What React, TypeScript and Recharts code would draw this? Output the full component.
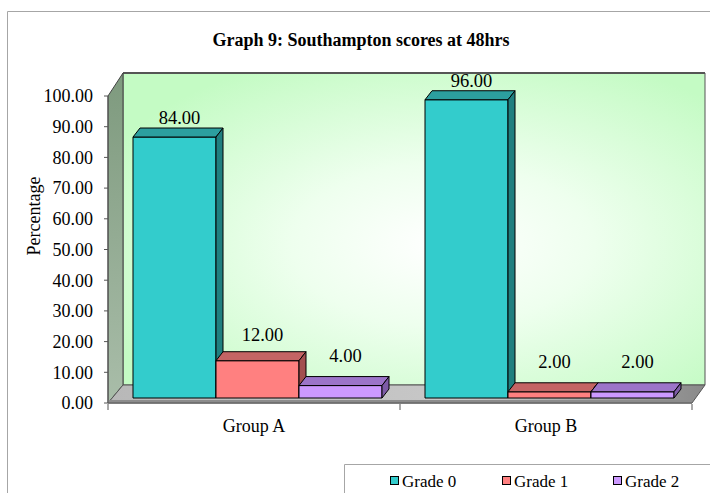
import React from 'react';
import { BarChart, Bar, XAxis, YAxis, LabelList } from 'recharts';

const categories = ['Group A', 'Group B'];
const grade0 = [84, 96];
const grade1 = [12, 2];
const grade2 = [4, 2];
const seriesNames = ['Grade 0', 'Grade 1', 'Grade 2'];
const seriesKeys = ['g0', 'g1', 'g2'];
const yTicks = [0, 10, 20, 30, 40, 50, 60, 70, 80, 90, 100];
const chartTitle = 'Graph 9: Southampton scores at 48hrs';
const yTitle = 'Percentage';

const data = categories.map((c, i) => ({ group: c, g0: grade0[i], g1: grade1[i], g2: grade2[i] }));

const W = 710;
const H = 493;
const PL = 108;
const PR = 692;
const PT = 96;
const PB = 403;
const DX = 15; // wall depth
const DY = 18;
const BAND = (PR - PL) / categories.length;
const FONT = '"Liberation Serif", "Times New Roman", Times, serif';

const COLORS = [
  { front: '#33CCCC', top: '#2C9F9F', side: '#207F7F' },
  { front: '#FF8080', top: '#C46464', side: '#A34F4F' },
  { front: '#CC99FF', top: '#9C74C9', side: '#7D5BA6' },
];

const BD = 7; // bar depth x
const BDY = 9; // bar depth y

const make3D = (c: { front: string; top: string; side: string }) => (props: any) => {
  const { x, y, width, height } = props;
  if (x == null || width == null) return null;
  const x0 = x + 4;
  const bottom = y + height - 5;
  const t = bottom - height * 1.012;
  const x1 = x0 + width;
  return (
    <g stroke="#000" strokeWidth={1} strokeLinejoin="round">
      <rect x={x0} y={t} width={width} height={bottom - t} fill={c.front} />
      <polygon points={`${x0},${t} ${x1},${t} ${x1 + BD},${t - BDY} ${x0 + BD},${t - BDY}`} fill={c.top} />
      <polygon points={`${x1},${t} ${x1 + BD},${t - BDY} ${x1 + BD},${bottom - BDY} ${x1},${bottom}`} fill={c.side} />
    </g>
  );
};

const renderLabel = (props: any) => {
  const { x, y, width, height, value } = props;
  if (x == null) return null;
  const bottom = y + height - 5;
  const t = bottom - height * 1.012;
  const base = t - 13 - Math.max(0, (30 - value) * 0.4);
  return (
    <text x={x + 4 + width / 2 + 5} y={base} textAnchor="middle" fontFamily={FONT} fontSize={18.5} fill="#000">
      {Number(value).toFixed(2)}
    </text>
  );
};

const XTick = (props: any) => {
  const { x, payload, index } = props;
  return (
    <g>
      <text x={x} y={432} textAnchor="middle" fontFamily={FONT} fontSize={18} fill="#000">
        {payload.value}
      </text>
      <line x1={x - BAND / 2} y1={PB + 1} x2={x - BAND / 2} y2={PB + 7} stroke="#555" />
      {index === categories.length - 1 ? (
        <line x1={x + BAND / 2} y1={PB + 1} x2={x + BAND / 2} y2={PB + 7} stroke="#555" />
      ) : null}
    </g>
  );
};

function Background() {
  return (
    <svg width={W} height={H} style={{ position: 'absolute', left: 0, top: 0 }}>
      <defs>
        <radialGradient id="wallGrad" cx="55%" cy="55%" r="65%">
          <stop offset="0%" stopColor="#FFFFFF" />
          <stop offset="40%" stopColor="#EEFFEE" />
          <stop offset="100%" stopColor="#C4FBC4" />
        </radialGradient>
        <linearGradient id="leftGrad" x1="0" y1="0" x2="0" y2="1">
          <stop offset="0%" stopColor="#7E9A7E" />
          <stop offset="100%" stopColor="#A9BDA9" />
        </linearGradient>
        <linearGradient id="floorGrad" x1="0" y1="0" x2="1" y2="0">
          <stop offset="0%" stopColor="#B8B8B8" />
          <stop offset="60%" stopColor="#C8C8C8" />
          <stop offset="100%" stopColor="#8A8A8A" />
        </linearGradient>
      </defs>
      <line x1={7.5} y1={11.5} x2={W} y2={11.5} stroke="#A6A6A6" />
      <line x1={7.5} y1={11.5} x2={7.5} y2={H} stroke="#A6A6A6" />
      <text x={361} y={46} textAnchor="middle" fontFamily={FONT} fontSize={18} fontWeight="bold" fill="#000">
        {chartTitle}
      </text>
      <polygon
        points={`${PL + DX},${PT - DY - 5} ${705},${PT - DY - 5} ${705},${PB - DY} ${PL + DX},${PB - DY}`}
        fill="url(#wallGrad)"
        stroke="#555"
        strokeWidth={1}
      />
      <line x1={PL + DX} y1={PT - DY - 5} x2={705} y2={PT - DY - 5} stroke="#555" strokeWidth={2} />
      <polygon
        points={`${PL},${PT} ${PL + DX},${PT - DY - 5} ${PL + DX},${PB - DY} ${PL},${PB}`}
        fill="url(#leftGrad)"
        stroke="#444"
        strokeWidth={1}
      />
      <polygon
        points={`${PL},${PB} ${PL + DX},${PB - DY} ${705},${PB - DY} ${PR},${PB}`}
        fill="url(#floorGrad)"
        stroke="#555"
        strokeWidth={1}
      />
      <rect x={PL} y={PB - 3} width={PR - PL} height={3} fill="#8C8C8C" />
      <text
        x={40}
        y={216}
        transform="rotate(-90 40 216)"
        textAnchor="middle"
        fontFamily={FONT}
        fontSize={18}
        fill="#000"
      >
        {yTitle}
      </text>
    </svg>
  );
}

function Legend() {
  const xs = [390, 502, 613];
  return (
    <svg width={W} height={H} style={{ position: 'absolute', left: 0, top: 0, pointerEvents: 'none' }}>
      <line x1={344.5} y1={464.5} x2={W} y2={464.5} stroke="#A6A6A6" />
      <line x1={344.5} y1={464.5} x2={344.5} y2={H} stroke="#A6A6A6" />
      {seriesNames.map((n, i) => (
        <g key={n}>
          <rect x={xs[i] + 0.5} y={476.5} width={8} height={8} fill={COLORS[i].front} stroke="#000" strokeWidth={1} />
          <text x={xs[i] + 12} y={487} fontFamily={FONT} fontSize={17} fill="#000">
            {n}
          </text>
        </g>
      ))}
    </svg>
  );
}

export default function App() {
  return (
    <div style={{ position: 'absolute', left: 0, top: 0, width: W, height: H, background: '#fff', overflow: 'hidden' }}>
      <Background />
      <div style={{ position: 'absolute', left: 0, top: 0 }}>
        <BarChart
          width={W}
          height={H}
          data={data}
          margin={{ top: PT, right: W - PR, bottom: H - PB - 30, left: 0 }}
          barCategoryGap={21}
          barGap={0}
        >
          <XAxis
            dataKey="group"
            height={30}
            axisLine={{ stroke: '#555' }}
            tickLine={false}
            tick={<XTick />}
            interval={0}
          />
          <YAxis
            width={PL}
            domain={[0, 100]}
            ticks={yTicks}
            interval={0}
            tickFormatter={(v: number) => v.toFixed(2)}
            tickSize={4}
            tickMargin={11}
            axisLine={{ stroke: '#555' }}
            tickLine={{ stroke: '#555' }}
            tick={{ fontFamily: FONT, fontSize: 18, fill: '#000' }}
          />
          {seriesKeys.map((k, i) => (
            <Bar key={k} dataKey={k} name={seriesNames[i]} fill={COLORS[i].front} isAnimationActive={false} shape={make3D(COLORS[i])}>
              <LabelList dataKey={k} content={renderLabel} />
            </Bar>
          ))}
        </BarChart>
      </div>
      <Legend />
    </div>
  );
}
